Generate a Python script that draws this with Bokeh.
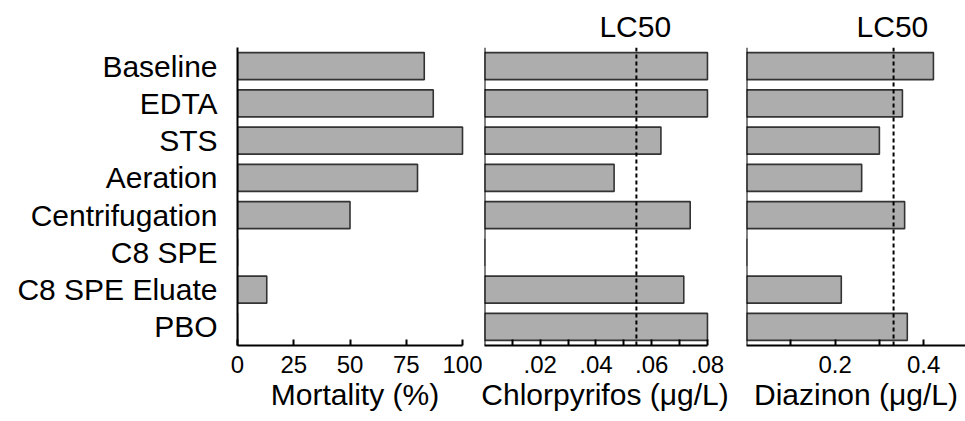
from bokeh.plotting import figure
from bokeh.layouts import row
from bokeh.models import Span, Title, FixedTicker, FactorRange, Range1d
from bokeh.embed import file_html
from bokeh.resources import INLINE

# ---- data ----
categories = ["Baseline", "EDTA", "STS", "Aeration", "Centrifugation",
              "C8 SPE", "C8 SPE Eluate", "PBO"]
mortality = [83, 87, 100, 80, 50, 0, 13, 0]
chlorpyrifos = [0.080, 0.080, 0.0633, 0.0465, 0.0738, 0.0, 0.0715, 0.080]
diazinon = [0.422, 0.352, 0.300, 0.260, 0.357, 0.0, 0.214, 0.363]
lc50_chlorpyrifos = 0.0545
lc50_diazinon = 0.332

mort_ticks = [0, 25, 50, 75, 100]
mort_tick_labels = ["0", "25", "50", "75", "100"]
chlor_ticks = [0.02, 0.04, 0.06, 0.08]
chlor_tick_labels = [".02", ".04", ".06", ".08"]
chlor_minor = [0.01, 0.03, 0.05, 0.07]
diaz_ticks = [0.2, 0.4]
diaz_tick_labels = ["0.2", "0.4"]
diaz_minor = [0.1, 0.3]

FONT = "Liberation Sans"
BAR_FILL = "#adadad"
BAR_LINE = "#333333"
LC50_TEXT_HALF_WIDTH = 37  # half width of "LC50" at 30px


def make_panel(values, x_end, bounds, ticks, tick_labels, minor, xlabel,
               width, mbl, mbr, show_y):
    p = figure(width=width, height=421,
               y_range=FactorRange(factors=categories[::-1]),
               x_range=Range1d(0, x_end),
               output_backend="svg", toolbar_location=None,
               y_axis_location="left" if show_y else None,
               min_border_left=mbl, min_border_right=mbr,
               min_border_top=47, min_border_bottom=76)
    p.background_fill_color = "white"
    p.border_fill_color = "white"
    p.outline_line_color = None
    p.xgrid.visible = False
    p.ygrid.visible = False

    p.hbar(y=categories, left=0, right=values, height=0.725,
           fill_color=BAR_FILL, line_color=BAR_LINE, line_width=1.6)

    ax = p.xaxis[0]
    ax.ticker = FixedTicker(ticks=ticks, minor_ticks=minor)
    ax.major_label_overrides = {t: l for t, l in zip(ticks, tick_labels)}
    if bounds is not None:
        ax.bounds = bounds
    ax.axis_line_width = 2
    ax.axis_line_color = "black"
    ax.major_tick_in = 6
    ax.major_tick_out = 0
    ax.minor_tick_in = 6
    ax.minor_tick_out = 0
    ax.major_tick_line_width = 2
    ax.minor_tick_line_width = 2
    ax.major_label_text_font = FONT
    ax.major_label_text_font_size = "24px"
    ax.major_label_text_color = "black"
    ax.major_label_standoff = 10
    ax.axis_label = xlabel
    ax.axis_label_text_font = FONT
    ax.axis_label_text_font_size = "30px"
    ax.axis_label_text_font_style = "normal"
    ax.axis_label_text_color = "black"
    ax.axis_label_standoff = 2

    if show_y:
        ya = p.yaxis[0]
        ya.axis_line_width = 2
        ya.axis_line_color = "black"
        ya.major_tick_in = 0
        ya.major_tick_out = 0
        ya.minor_tick_in = 0
        ya.minor_tick_out = 0
        ya.major_label_text_font = FONT
        ya.major_label_text_font_size = "30px"
        ya.major_label_text_color = "black"
        ya.major_label_standoff = 20
    else:
        p.add_layout(Span(location=0, dimension="height",
                          line_color="black", line_width=2))
    return p


p1 = make_panel(mortality, 104.44, (0, 100), mort_ticks, mort_tick_labels, [],
                "Mortality (%)", 482, 237, 10, True)
p2 = make_panel(chlorpyrifos, 0.08647, (0, 0.08), chlor_ticks, chlor_tick_labels,
                chlor_minor, "Chlorpyrifos (\u03bcg/L)", 264, 2, 21, False)
p3 = make_panel(diazinon, 0.4944, None, diaz_ticks, diaz_tick_labels,
                diaz_minor, "Diazinon (\u03bcg/L)", 219, 0, 0, False)

for p, lc, frame_w in ((p2, lc50_chlorpyrifos, 241), (p3, lc50_diazinon, 219)):
    p.add_layout(Span(location=lc, dimension="height", line_color="black",
                      line_width=2, line_dash="4 3"))
    off = lc / p.x_range.end * frame_w - LC50_TEXT_HALF_WIDTH
    p.add_layout(Title(text="LC50", align="left", offset=off, standoff=10,
                       text_font=FONT, text_font_size="30px",
                       text_font_style="normal", text_color="black"), "above")

layout = row(p1, p2, p3, spacing=0)
open("out.html", "w").write(file_html(layout, INLINE))
